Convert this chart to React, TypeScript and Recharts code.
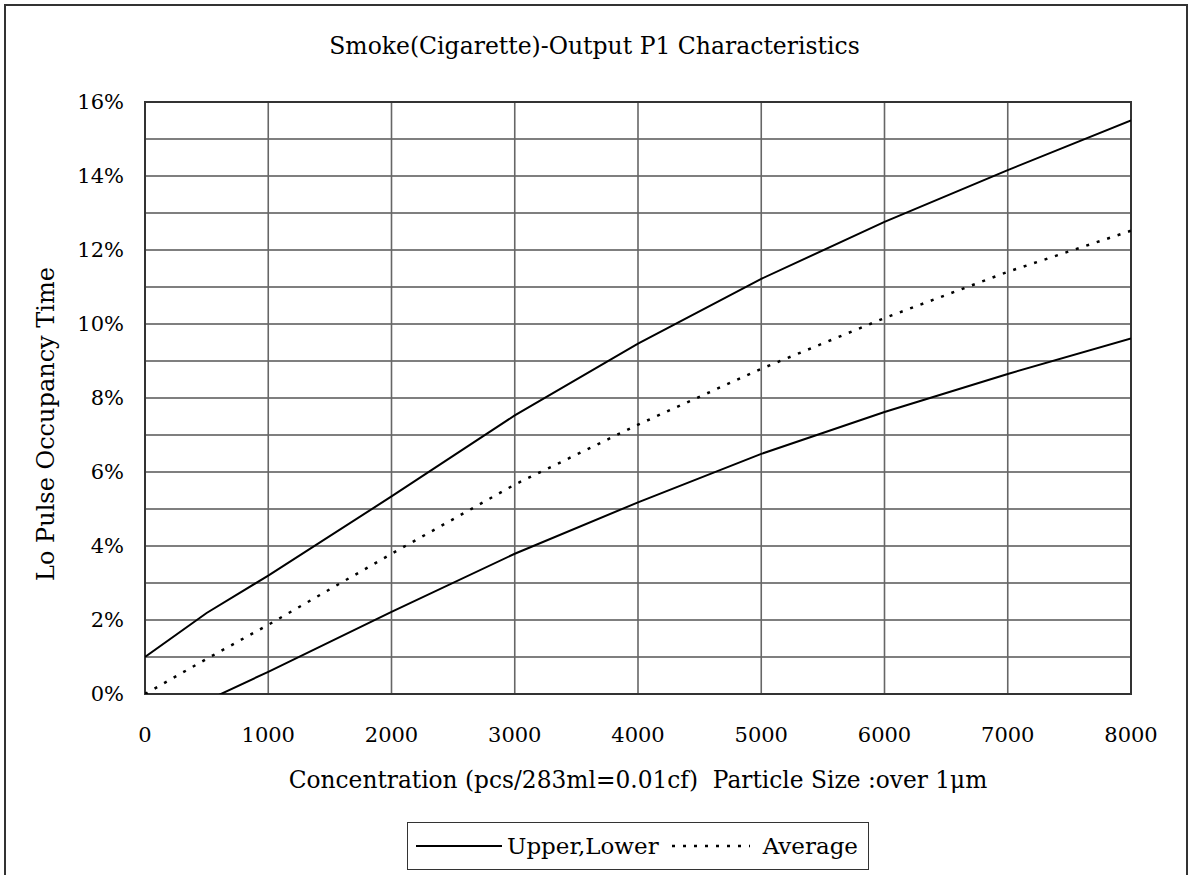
import React from "react"
import {
  LineChart,
  Line,
  XAxis,
  YAxis,
  CartesianGrid,
  ReferenceArea,
  Legend,
} from "recharts"

// concentration (pcs / 0.01cf)
const concentration = [0, 500, 1000, 2000, 3000, 4000, 5000, 6000, 7000, 8000]
// lo pulse occupancy time, %
const upperValues = [1.0, 2.19, 3.2, 5.34, 7.53, 9.47, 11.22, 12.76, 14.16, 15.5]
const averageValues = [0, 0.95, 1.87, 3.79, 5.66, 7.28, 8.79, 10.16, 11.41, 12.52]
const lowerValues = [-1.0, -0.18, 0.6, 2.22, 3.79, 5.18, 6.49, 7.62, 8.65, 9.61]

const xTicks = [0, 1000, 2000, 3000, 4000, 5000, 6000, 7000, 8000]
const yTicks = [0, 1, 2, 3, 4, 5, 6, 7, 8, 9, 10, 11, 12, 13, 14, 15, 16]

const legendItems = [
  { label: "Upper,Lower", dash: undefined as string | undefined },
  { label: "Average", dash: "3 8" },
]

const title = "Smoke(Cigarette)-Output P1 Characteristics"
const xTitle = "Concentration (pcs/283ml=0.01cf)\u00a0 Particle Size :over 1\u03bcm"
const yTitle = "Lo Pulse Occupancy Time"

const FONT = "'DejaVu Serif', serif"

const data = concentration.map((c, i) => ({
  c,
  upper: upperValues[i],
  average: averageValues[i],
  lower: lowerValues[i],
}))

function LegendBox() {
  return (
    <div
      style={{
        width: 462,
        height: 48,
        boxSizing: "border-box",
        border: "1.5px solid #333",
        background: "#fff",
        display: "flex",
        alignItems: "center",
        paddingLeft: 8,
        fontFamily: FONT,
        fontSize: 23,
        color: "#000",
      }}
    >
      {legendItems.map((item, i) => (
        <span
          key={item.label}
          style={{ display: "flex", alignItems: "center", marginLeft: i === 0 ? 0 : 13 }}
        >
          <svg width={i === 0 ? 86 : 78} height={6}>
            <line
              x1={0}
              y1={3}
              x2={i === 0 ? 86 : 78}
              y2={3}
              stroke="#000"
              strokeWidth={i === 0 ? 2 : 2.5}
              strokeDasharray={item.dash}
            />
          </svg>
          <span style={{ marginLeft: i === 0 ? 5 : 13 }}>{item.label}</span>
        </span>
      ))}
    </div>
  )
}

export default function App() {
  return (
    <div
      style={{
        position: "absolute",
        left: 0,
        top: 0,
        width: 1189,
        height: 875,
        overflow: "hidden",
        background: "#fff",
        fontFamily: FONT,
      }}
    >
      <div
        style={{
          position: "absolute",
          left: 4,
          top: 4,
          width: 1184,
          height: 900,
          boxSizing: "border-box",
          border: "2px solid #333",
        }}
      />
      <div
        style={{
          position: "absolute",
          left: 0,
          top: 33,
          width: 1189,
          textAlign: "center",
          fontSize: 23.5,
          lineHeight: "27px",
          color: "#000",
        }}
      >
        {title}
      </div>
      <div style={{ position: "absolute", left: 0, top: 0 }}>
        <LineChart
          width={1189}
          height={875}
          data={data}
          margin={{ top: 102, right: 58, left: 85, bottom: 81 }}
          style={{ fontFamily: FONT }}
        >
          <CartesianGrid vertical={false} stroke="#000" strokeWidth={1.2} />
          <CartesianGrid horizontal={false} stroke="#666" strokeWidth={1.6} />
          <XAxis
            dataKey="c"
            type="number"
            domain={[0, 8000]}
            ticks={xTicks}
            allowDataOverflow
            height={100}
            axisLine={false}
            tickLine={false}
            tickSize={0}
            tickMargin={33}
            tick={{ fill: "#000", fontSize: 21 }}
            label={{
              content: () => (
                <text x={638} y={788} textAnchor="middle" fill="#000" fontSize={23.3}>
                  {xTitle}
                </text>
              ),
            }}
          />
          <YAxis
            type="number"
            domain={[0, 16]}
            ticks={yTicks}
            allowDataOverflow
            width={60}
            axisLine={false}
            tickLine={false}
            tickSize={0}
            tickMargin={21}
            interval={0}
            tick={{ fill: "#000", fontSize: 21 }}
            tickFormatter={(v: number) => (v % 2 === 0 ? `${v}%` : "")}
            label={{
              content: () => (
                <text
                  x={54}
                  y={424}
                  transform="rotate(-90 54 424)"
                  textAnchor="middle"
                  fill="#000"
                  fontSize={24}
                >
                  {yTitle}
                </text>
              ),
            }}
          />
          <Line
            dataKey="upper"
            type="linear"
            stroke="#000"
            strokeWidth={2}
            dot={false}
            isAnimationActive={false}
          />
          <Line
            dataKey="lower"
            type="linear"
            stroke="#000"
            strokeWidth={2}
            dot={false}
            isAnimationActive={false}
          />
          <Line
            dataKey="average"
            type="linear"
            stroke="#000"
            strokeWidth={2.5}
            strokeDasharray="3 8"
            dot={false}
            isAnimationActive={false}
          />
          <ReferenceArea
            x1={0}
            x2={8000}
            y1={0}
            y2={16}
            fill="none"
            stroke="#333"
            strokeWidth={2}
            ifOverflow="visible"
          />
          <Legend
            layout="horizontal"
            verticalAlign="middle"
            align="center"
            wrapperStyle={{ top: 822, left: 407, width: 462, height: 48 }}
            content={() => <LegendBox />}
          />
        </LineChart>
      </div>
    </div>
  )
}
